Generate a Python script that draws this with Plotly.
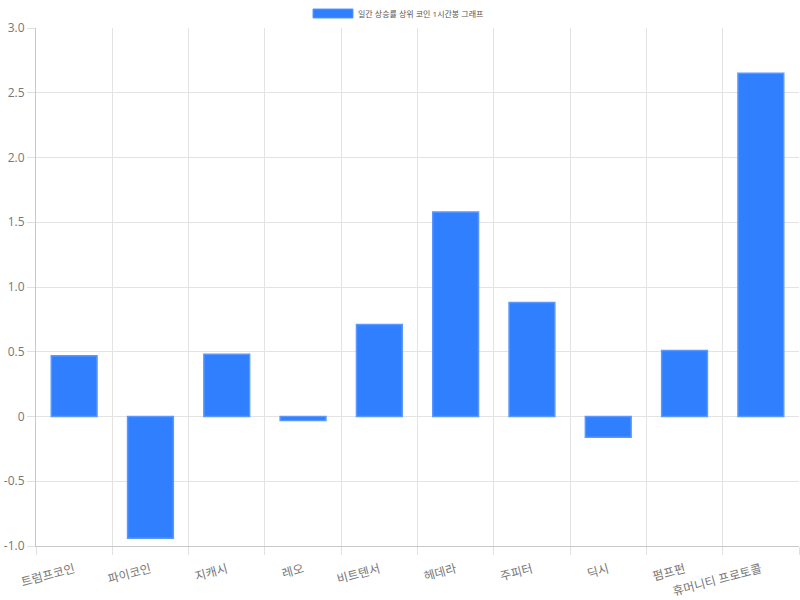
import plotly.graph_objects as go

categories = ["트럼프코인", "파이코인", "지캐시", "레오", "비트텐서", "헤데라", "주피터", "딕시", "펌프펀", "휴머니티 프로토콜"]
values = [0.47, -0.94, 0.48, -0.03, 0.71, 1.58, 0.88, -0.16, 0.51, 2.65]
series_name = "일간 상승률 상위 코인 1시간봉 그래프"
y_tickvals = [-1.0, -0.5, 0, 0.5, 1.0, 1.5, 2.0, 2.5, 3.0]
y_ticktext = ["-1.0", "-0.5", "0", "0.5", "1.0", "1.5", "2.0", "2.5", "3.0"]

FONT = "Open Sans, Noto Sans CJK KR, sans-serif"
BAR = "#2f7fff"
BORDER = "#5a98ff"
TXT = "#777777"

fig = go.Figure(go.Bar(
    x=categories, y=values, name=series_name,
    marker=dict(color=BAR, line=dict(color=BORDER, width=1.5)),
    width=0.6, showlegend=False,
))

W, H = 800, 600
L, R, T, B = 36, 1, 28, 54
pw, ph = W - L - R, H - T - B

def px_x(p):
    return (p - L) / pw

def px_y(p):
    return (H - B - p) / ph

fig.add_shape(type="rect", xref="paper", yref="paper",
              x0=px_x(313), x1=px_x(353), y0=px_y(18), y1=px_y(9),
              fillcolor=BAR, line=dict(color=BORDER, width=1))
fig.add_annotation(xref="paper", yref="paper", x=px_x(356), y=px_y(13.5),
                   text=series_name, showarrow=False, xanchor="left", yanchor="middle",
                   font=dict(family=FONT, size=8, color="#555"))

fig.update_layout(
    width=W, height=H,
    margin=dict(l=L, r=R, t=T, b=B, pad=0, autoexpand=False),
    paper_bgcolor="white", plot_bgcolor="white",
    font=dict(family=FONT, size=12, color=TXT),
    bargap=0.4,
    xaxis=dict(
        type="category", tickson="boundaries", ticks="outside", ticklen=8,
        tickcolor="#e0e0e0", showgrid=True, gridcolor="#e3e3e3", gridwidth=1,
        showline=True, linecolor="#c8c8c8", linewidth=1, mirror=False,
        tickangle=-15, tickfont=dict(size=12, color=TXT),
        ticklabelstandoff=11,
        zeroline=False, automargin=False,
    ),
    yaxis=dict(
        range=[-1, 3], tickvals=y_tickvals, ticktext=y_ticktext,
        ticks="outside", ticklen=8, tickcolor="#e0e0e0",
        showgrid=True, gridcolor="#e3e3e3", gridwidth=1,
        showline=True, linecolor="#c8c8c8", linewidth=1,
        zeroline=False, tickfont=dict(size=12, color=TXT), automargin=False,
    ),
)

fig.write_html("out.html", config={"displayModeBar": False},
               post_script="document.body.style.margin='0';document.body.style.overflow='hidden';")
